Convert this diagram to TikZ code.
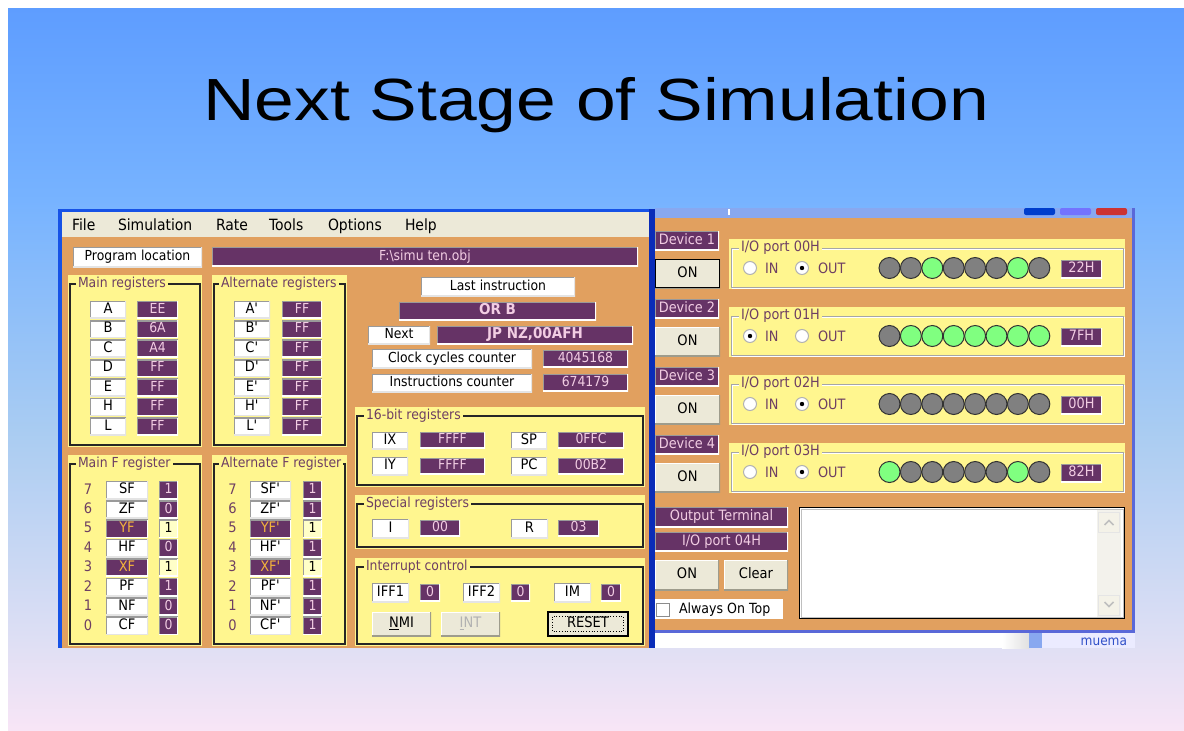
\documentclass[tikz,border=0pt]{standalone}
\usepackage{fontspec}
\newfontfamily\uifont[FakeStretch=0.9]{DejaVu Sans}
\newfontfamily\titlefont[FakeStretch=1.2]{Liberation Sans}
\newcommand\fsz[1]{\fontsize{#1}{#1}\selectfont}
\newcommand\regq{\textquotesingle}
\definecolor{slideA}{HTML}{5E9DFF}
\definecolor{slideB}{HTML}{77B3FF}
\definecolor{slideC}{HTML}{A9CCF2}
\definecolor{slideD}{HTML}{DEDFF4}
\definecolor{slideE}{HTML}{F8E5F6}
\definecolor{bodyor}{HTML}{E1A05F}
\definecolor{ybg}{HTML}{FFF68F}
\definecolor{plum}{HTML}{663366}
\definecolor{valtext}{HTML}{F2CDE3}
\definecolor{gtext}{HTML}{6E3F63}
\definecolor{face}{HTML}{ECE9D8}
\definecolor{xpblue}{HTML}{1652E6}
\definecolor{xpdark}{HTML}{0A2CB8}
\definecolor{winedge}{HTML}{5A68D8}
\definecolor{strip}{HTML}{88A8F0}
\definecolor{ledgray}{HTML}{808080}
\definecolor{ledgreen}{HTML}{80FF80}
\definecolor{flagtext}{HTML}{F2B23C}
\definecolor{edgedark}{HTML}{9A9A9A}
\definecolor{edgelight}{HTML}{E4E4E4}
\definecolor{btndark}{HTML}{9E9C8C}
\definecolor{yval}{HTML}{FFFFC8}
\definecolor{scrollbg}{HTML}{F3F2EC}
\definecolor{muemablue}{HTML}{3050C8}
\tikzset{
  every node/.style={inner sep=0pt,outer sep=0pt},
  bevel/.style 2 args={path picture={
    \draw[#1,line width=2.4pt] (path picture bounding box.south west) -- (path picture bounding box.north west) -- (path picture bounding box.north east);
    \draw[#2,line width=2.4pt] (path picture bounding box.south west) -- (path picture bounding box.south east) -- (path picture bounding box.north east);}},
  uit/.style={font=\uifont\fsz{13.8}},
  boxtext/.style={uit,text height=1.95ex,text depth=.25ex},
  wbox/.style={rectangle,fill=white,bevel={edgedark}{edgelight},boxtext,text=black},
  rname/.style={wbox,font=\uifont\fsz{14.5}},
  pbox/.style={rectangle,fill=plum,bevel={edgedark}{white},boxtext,text=valtext},
  pboxb/.style={pbox,font=\uifont\bfseries\fsz{15}},
  fhl/.style={rectangle,fill=plum,bevel={edgedark}{white},boxtext,font=\uifont\fsz{14.5},text=flagtext},
  yvalbox/.style={rectangle,fill=yval,bevel={edgedark}{white},boxtext,text=black},
  lbl/.style={rectangle,fill=plum,bevel={edgedark}{white},boxtext,font=\uifont\fsz{14.3},text=valtext},
  btn/.style={rectangle,fill=face,bevel={white}{btndark},boxtext,font=\uifont\fsz{14.5},text=black},
  menu/.style={anchor=base west,font=\uifont\fsz{15.5},text=black},
  gtitle/.style={anchor=west,fill=ybg,inner xsep=2pt,inner ysep=1pt,uit,text=gtext},
  gframe/.style={draw=black!85,line width=1.2pt},
  bitnum/.style={font=\uifont\fsz{14.5},text=gtext},
  radio/.style={circle,minimum size=13pt,fill=white,draw=black!30,line width=1pt},
  led/.style={circle,minimum size=21pt,draw=black!80,line width=1pt},
  rtext/.style={anchor=west,font=\uifont\fsz{14.3},text=gtext},
}
% box node from its corners: style, name, x1, y1, x2, y2, text
\newcommand\bx[7]{\node[#1,minimum width={(#5)-(#3)},minimum height={(#6)-(#4)}] (#2) at ({((#3)+(#5))/2},{((#4)+(#6))/2}) {#7};}
% group box: name, x1, y1, x2, y2, title, title x
\newcommand\grp[7]{%
  \fill[ybg] (#2,#3) rectangle (#4,#5);
  \draw[gframe] (#2+2,#3+9) rectangle (#4-2,#5-2);
  \node[gtitle] (#1) at (#7,#3+9) {#6};}
\begin{document}
\begin{tikzpicture}[x=1pt,y=-1pt]
\useasboundingbox (0,0) rectangle (1184,731);
\fill[white] (0,0) rectangle (1184,731);
% slide background
\shade[top color=slideA,bottom color=slideB] (8,8) rectangle (1184,200.5);
\shade[top color=slideB,bottom color=slideC] (8,200) rectangle (1184,430.5);
\shade[top color=slideC,bottom color=slideD] (8,430) rectangle (1184,640.5);
\shade[top color=slideD,bottom color=slideE] (8,640) rectangle (1184,731);
\node[anchor=base,font=\titlefont\fsz{59.5}] (title) at (596,120) {Next Stage of Simulation};

% ---------- strip below the device window ----------
\fill[white] (655,633) rectangle (1002,648);
\shade[left color=white,right color=black!12] (1002,633) rectangle (1029,648);
\fill[strip] (1029,633) rectangle (1042,648);
\fill[blue!8!white] (1042,633) rectangle (1135,648);
\node[anchor=base east,font=\uifont\fsz{13.5},text=muemablue] (muema) at (1127,645) {muema};

% ---------- device window ----------
\fill[winedge] (655,208) rectangle (1135,633);
\fill[strip] (655,208) rectangle (1132,218);
\fill[white] (728,209) rectangle (730,215);
\fill[blue!70!cyan!80!black,rounded corners=2pt] (1024,208) rectangle (1055,215);
\fill[blue!55!white,rounded corners=2pt] (1060,208) rectangle (1091,215);
\fill[red!60!gray,rounded corners=2pt] (1096,208) rectangle (1127,215);
\fill[bodyor] (655,218) rectangle (1132,630);

\foreach \k/\port/\val/\insel/\bits in {0/00/22H/0/{0,0,1,0,0,0,1,0},1/01/7FH/1/{0,1,1,1,1,1,1,1},2/02/00H/0/{0,0,0,0,0,0,0,0},3/03/82H/0/{1,0,0,0,0,0,1,0}}{
  \pgfmathsetmacro\yo{\k*68}
  \pgfmathtruncatemacro\dev{\k+1}
  \bx{lbl}{dev\dev}{655}{231+\yo}{719}{250+\yo}{Device \dev}
  \bx{btn}{on\dev}{655}{259+\yo}{720}{288+\yo}{ON}
  \fill[ybg] (729,239+\yo) rectangle (1125,289+\yo);
  \draw[white,line width=1pt] (732,249+\yo) rectangle (1124,288+\yo);
  \draw[black!35,line width=1pt] (731,248+\yo) rectangle (1123,287+\yo);
  \node[gtitle,font=\uifont\fsz{14.3}] (port\dev) at (739,248+\yo) {I/O port \port H};
  \node[radio] (rin\dev) at (750,268+\yo) {};
  \node[rtext] (tin\dev) at (765,268+\yo) {IN};
  \node[radio] (rout\dev) at (802,268+\yo) {};
  \node[rtext] (tout\dev) at (818,268+\yo) {OUT};
  \ifnum\insel=1 \fill (rin\dev) circle (2.2);\else \fill (rout\dev) circle (2.2);\fi
  \foreach \s [count=\j from 0] in \bits {
    \ifnum\s=1 \def\lc{ledgreen}\else\def\lc{ledgray}\fi
    \node[led,fill=\lc] (led\dev-\j) at (889.5+\j*21.4,268+\yo) {};
  }
  \bx{lbl}{val\dev}{1061}{260+\yo}{1102}{278+\yo}{\val}
}
\draw[black,line width=1.2pt] (655.6,259.6) rectangle (719.4,287.4);

\bx{lbl}{outterm}{655}{507}{788}{527}{Output Terminal}
\bx{lbl}{port5}{655}{532}{788}{551}{I/O port 04H}
\bx{btn}{on5}{655}{560}{719}{590}{ON}
\bx{btn}{clear}{724}{560}{788}{590}{Clear}
\fill[white] (655,599) rectangle (783,619);
\node[rectangle,fill=white,draw=black!45,line width=1pt,minimum size=13pt] (aotbox) at (662.5,610) {};
\node[anchor=west,font=\uifont\fsz{14},text=black] (aottext) at (679,609.5) {Always On Top};
\node[rectangle,fill=white,draw=black,line width=1.5pt,minimum width=325pt,minimum height=111pt] (terminal) at (962,563) {};
\draw[black!25,line width=1pt] (801,509) rectangle (1123,617);
\fill[scrollbg] (1097,510) rectangle (1121,617);
\node[rectangle,fill=face!60!white,draw=black!10,line width=1pt,minimum width=21pt,minimum height=20pt] (scrollup) at (1109,522) {};
\node[rectangle,fill=face!60!white,draw=black!10,line width=1pt,minimum width=21pt,minimum height=20pt] (scrolldown) at (1109,605) {};
\draw[black!25,line width=1.6pt] (1104.5,525) -- (1109,520.5) -- (1113.5,525);
\draw[black!25,line width=1.6pt] (1104.5,602) -- (1109,606.5) -- (1113.5,602);

% ---------- simulator main window ----------
\fill[xpblue] (58,209) rectangle (655,648);
\fill[face] (62,212) rectangle (649,237);
\fill[bodyor] (62,237) rectangle (649,648);
\fill[xpdark] (649,209) rectangle (655,648);
\node[menu] (mfile) at (72,230) {File};
\node[menu] (msim) at (118,230) {Simulation};
\node[menu] (mrate) at (216,230) {Rate};
\node[menu] (mtools) at (269,230) {Tools};
\node[menu] (mopt) at (328,230) {Options};
\node[menu] (mhelp) at (405,230) {Help};

\bx{wbox}{progloc}{73}{247}{202}{267}{Program location}
\bx{pbox}{progpath}{212}{247}{638}{266}{F:\textbackslash simu ten.obj}

% register banks
\grp{gmain}{68}{275}{202}{447}{Main registers}{76}
\grp{galt}{212}{275}{347}{447}{Alternate registers}{219}
\foreach \r/\v [count=\i from 0] in {A/EE,B/6A,C/A4,D/FF,E/FF,H/FF,L/FF}{
  \pgfmathsetmacro\yt{301+\i*19.45}
  \bx{rname}{mr\i}{90}{\yt}{126}{\yt+17.5}{\r}
  \bx{pbox}{mv\i}{137}{\yt}{178}{\yt+17.5}{\v}
  \bx{rname}{ar\i}{234}{\yt}{270}{\yt+17.5}{\r\regq}
  \bx{pbox}{av\i}{282}{\yt}{322}{\yt+17.5}{FF}
}

% flag registers
\grp{gmf}{68}{455}{202}{646}{Main F register}{76}
\grp{gaf}{212}{455}{347}{646}{Alternate F register}{219}
\foreach \b/\n/\v/\h/\w [count=\i from 0] in {7/SF/1/0/1,6/ZF/0/0/1,5/YF/1/1/1,4/HF/0/0/1,3/XF/1/1/1,2/PF/1/0/1,1/NF/0/0/1,0/CF/0/0/1}{
  \pgfmathsetmacro\yt{481+\i*19.4}
  \node[bitnum] (mb\i) at (88,\yt+8) {\b};
  \node[bitnum] (ab\i) at (232.5,\yt+8) {\b};
  \ifnum\h=1
    \bx{fhl}{mf\i}{106}{\yt}{148}{\yt+18}{\n}
    \bx{yvalbox}{mfv\i}{159}{\yt}{178}{\yt+18}{\v}
    \bx{fhl}{af\i}{250}{\yt}{291}{\yt+18}{\n\regq}
    \bx{yvalbox}{afv\i}{303}{\yt}{322}{\yt+18}{\w}
  \else
    \bx{rname}{mf\i}{106}{\yt}{148}{\yt+18}{\n}
    \bx{pbox}{mfv\i}{159}{\yt}{178}{\yt+18}{\v}
    \bx{rname}{af\i}{250}{\yt}{291}{\yt+18}{\n\regq}
    \bx{pbox}{afv\i}{303}{\yt}{322}{\yt+18}{\w}
  \fi
}

% instruction display
\bx{wbox}{lastins}{421}{277}{575}{296}{Last instruction}
\bx{pboxb}{orb}{399}{302}{596}{320}{OR B}
\bx{wbox}{next}{368}{326}{430}{344}{Next}
\bx{pboxb}{jpnz}{437}{326}{633}{344}{JP NZ,00AFH}
\bx{wbox}{clk}{372}{349}{532}{368}{Clock cycles counter}
\bx{pbox}{clkv}{543}{350}{628}{367}{4045168}
\bx{wbox}{insc}{372}{374}{532}{392}{Instructions counter}
\bx{pbox}{inscv}{543}{374}{628}{391}{674179}

% 16-bit registers
\grp{g16}{355}{407}{645}{487}{16-bit registers}{364}
\bx{rname}{ix}{372}{432}{408}{449}{IX}
\bx{pbox}{ixv}{420}{432}{485}{448}{FFFF}
\bx{rname}{sp}{511}{432}{547}{449}{SP}
\bx{pbox}{spv}{558}{432}{624}{448}{0FFC}
\bx{rname}{iy}{372}{457}{408}{475}{IY}
\bx{pbox}{iyv}{420}{458}{485}{474}{FFFF}
\bx{rname}{pc}{511}{457}{547}{475}{PC}
\bx{pbox}{pcv}{558}{458}{624}{474}{00B2}

% special registers
\grp{gspec}{355}{495}{645}{549}{Special registers}{364}
\bx{rname}{ireg}{372}{519}{409}{538}{I}
\bx{pbox}{iregv}{420}{520}{460}{536}{00}
\bx{rname}{rreg}{511}{519}{548}{538}{R}
\bx{pbox}{rregv}{558}{520}{599}{536}{03}

% interrupt control
\grp{gint}{355}{558}{645}{646}{Interrupt control}{364}
\bx{rname}{iff1}{372}{583}{409}{602}{IFF1}
\bx{pbox}{iff1v}{420}{584}{440}{601}{0}
\bx{rname}{iff2}{463}{583}{500}{602}{IFF2}
\bx{pbox}{iff2v}{511}{584}{530}{601}{0}
\bx{rname}{im}{554}{583}{591}{602}{IM}
\bx{pbox}{imv}{601}{584}{621}{601}{0}
\bx{btn}{nmi}{372}{612}{431}{636}{\underline{N}MI}
\bx{btn,text=black!30}{int}{441}{612}{500}{636}{\underline{I}NT}
\bx{btn,draw=black,line width=1.2pt}{reset}{548}{612}{628}{636}{RESET}
\draw[black,dotted,line width=0.7pt] (552.5,616.5) rectangle (623.5,631.5);
\end{tikzpicture}
\end{document}
